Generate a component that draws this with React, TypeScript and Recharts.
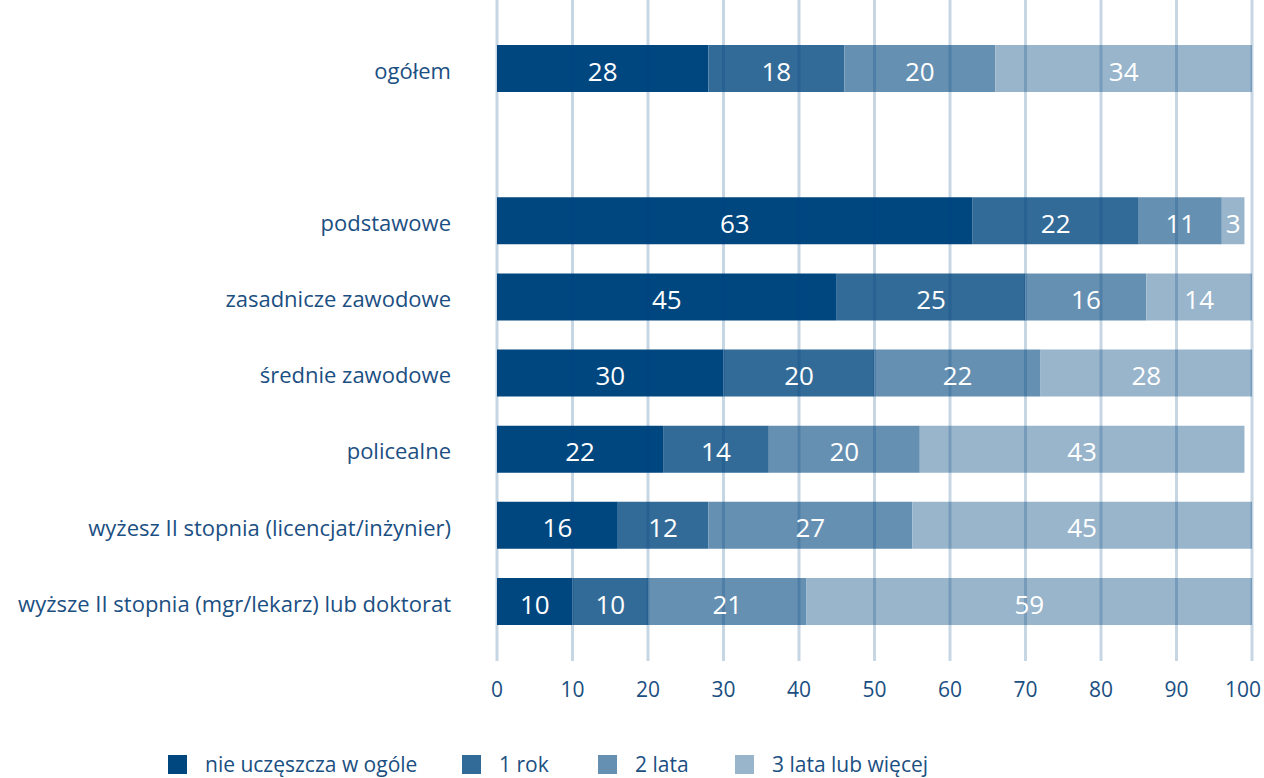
import { Bar, BarChart, XAxis, YAxis, LabelList, ReferenceLine } from "recharts"

const categories = [
  "ogółem",
  "",
  "podstawowe",
  "zasadnicze zawodowe",
  "średnie zawodowe",
  "policealne",
  "wyżesz II stopnia (licencjat/inżynier)",
  "wyższe II stopnia (mgr/lekarz) lub doktorat",
]
const none = [28, null, 63, 45, 30, 22, 16, 10]
const oneYear = [18, null, 22, 25, 20, 14, 12, 10]
const twoYears = [20, null, 11, 16, 22, 20, 27, 21]
const threePlus = [34, null, 3, 14, 28, 43, 45, 59]
const xTicks = [0, 10, 20, 30, 40, 50, 60, 70, 80, 90, 100]

const series = [
  { key: "none", name: "nie uczęszcza w ogóle", color: "#00467f" },
  { key: "oneYear", name: "1 rok", color: "#336b98" },
  { key: "twoYears", name: "2 lata", color: "#6690b2" },
  { key: "threePlus", name: "3 lata lub więcej", color: "#99b5cc" },
]

const data = categories.map((name, i) => ({
  name,
  none: none[i],
  oneYear: oneYear[i],
  twoYears: twoYears[i],
  threePlus: threePlus[i],
}))

const textColor = "#1b4f82"
const font = "'Open Sans', sans-serif"
const legendLeft = [168, 462, 598, 735]

// keep the last tick label ("100") inside the picture
function XTick(props: any) {
  const { x, y, payload } = props
  const shift = payload.value === 100 ? -9 : 0
  return (
    <text x={x + shift} y={y} dy={14} textAnchor="middle" fill={textColor} fontSize={21} fontFamily={font}>
      {payload.value}
    </text>
  )
}

export default function App() {
  return (
    <div style={{ position: "absolute", left: 0, top: 0, width: 1264, height: 778, fontFamily: font }}>
      <BarChart
        width={1264}
        height={720}
        data={data}
        layout="vertical"
        margin={{ top: 0, right: 12, bottom: 0, left: 0 }}
        barCategoryGap={0}
      >
        <XAxis
          type="number"
          domain={[0, 100]}
          ticks={xTicks}
          axisLine={false}
          tickLine={false}
          tickSize={0}
          tickMargin={22}
          height={59}
          tick={<XTick />}
        />
        <YAxis
          type="category"
          dataKey="name"
          width={497}
          axisLine={false}
          tickLine={false}
          tickSize={0}
          tickMargin={46}
          padding={{ top: 30, bottom: 22 }}
          interval={0}
          tick={{ fill: textColor, fontSize: 22, fontFamily: font, dy: 3 }}
        />
        {series.map((s) => (
          <Bar key={s.key} dataKey={s.key} name={s.name} stackId="a" fill={s.color} barSize={47} isAnimationActive={false}>
            <LabelList dataKey={s.key} position="center" fill="#ffffff" fontSize={26} fontFamily={font} dy={3} />
          </Bar>
        ))}
        {xTicks.map((t) => (
          <ReferenceLine key={t} x={t} stroke="#00467f" strokeOpacity={0.22} strokeWidth={3} />
        ))}
      </BarChart>
      {series.map((s, i) => (
        <div
          key={s.key}
          style={{
            position: "absolute",
            top: 752,
            left: legendLeft[i],
            display: "flex",
            alignItems: "center",
            color: textColor,
            fontSize: 21,
            lineHeight: "24px",
            whiteSpace: "nowrap",
          }}
        >
          <span style={{ width: 19, height: 19, background: s.color, display: "inline-block", marginRight: 18 }} />
          <span>{s.name}</span>
        </div>
      ))}
    </div>
  )
}
